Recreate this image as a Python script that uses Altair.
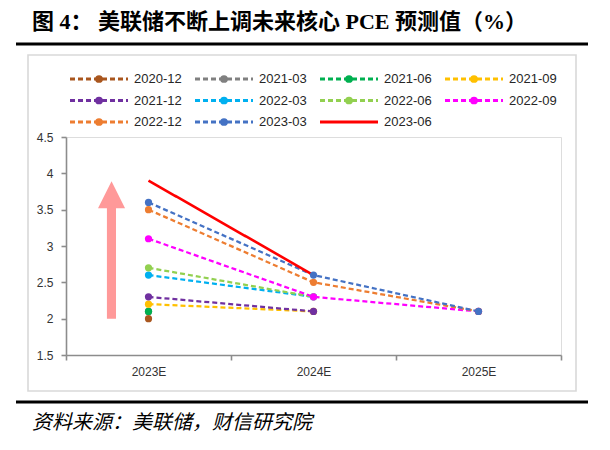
import altair as alt
import pandas as pd

# ---------------- data ----------------
years = ["2023E", "2024E", "2025E"]
series = ["2020-12", "2021-03", "2021-06", "2021-09", "2021-12", "2022-03",
          "2022-06", "2022-09", "2022-12", "2023-03", "2023-06"]
colors = ["#A9561E", "#808080", "#00B050", "#FFC000", "#7030A0", "#00B0F0",
          "#92D050", "#FF00FF", "#ED7D31", "#4472C4", "#FF0000"]
v_2023 = [2.0, 2.1, 2.1, 2.2, 2.3, 2.6, 2.7, 3.1, 3.5, 3.6, 3.9]
v_2024 = [None, None, None, 2.1, 2.1, 2.3, 2.3, 2.3, 2.5, 2.6, 2.6]
v_2025 = [None, None, None, None, None, None, None, 2.1, 2.1, 2.1, None]
y_ticks = [1.5, 2, 2.5, 3, 3.5, 4, 4.5]

# arrow annotation (data coordinates)
arrow_y = [2.0, 3.52, 3.5201, 3.89]
arrow_left = [0.248, 0.248, 0.194, 0.276]
arrow_right = [0.303, 0.303, 0.358, 0.276]

title_text = "图 4： 美联储不断上调未来核心 PCE 预测值（%）"
source_text = "资料来源：美联储，财信研究院"
solid_series = "2023-06"

# ---------------- tables ----------------
rows = []
for i, s in enumerate(series):
    for j, vals in enumerate([v_2023, v_2024, v_2025]):
        if vals[i] is not None:
            rows.append({"series": s, "order": i, "x": j + 0.5, "value": vals[i]})
df = pd.DataFrame(rows)

leg = pd.DataFrame({"series": series})
leg["col"] = [i % 4 for i in range(len(series))]
leg["row"] = [i // 4 for i in range(len(series))]
leg["lx0"] = leg["col"]
leg["lx1"] = leg["col"] + 0.464
leg["lxm"] = leg["col"] + 0.232
leg["lxt"] = leg["col"] + 0.512

arrow_df = pd.DataFrame({"y": arrow_y, "xl": arrow_left, "xr": arrow_right})

color = alt.Color("series:N", scale=alt.Scale(domain=series, range=colors), legend=None)
dash = alt.condition(f"datum.series == '{solid_series}'", alt.value([1, 0]), alt.value([5, 3]))
width_c = alt.condition(f"datum.series == '{solid_series}'", alt.value(2.6), alt.value(2.25))

label_arr = "[" + ",".join(f"'{y}'" for y in years) + "]"
x_scale = alt.Scale(domain=[0, 3], nice=False, zero=False)
y_scale = alt.Scale(domain=[1.5, 4.5], nice=False, zero=False)

x_axis = alt.Axis(
    values=[0, 0.5, 1, 1.5, 2, 2.5, 3],
    labelExpr=f"datum.value % 1 == 0.5 ? {label_arr}[floor(datum.value)] : ''",
    tickOpacity={"condition": {"test": "datum.value % 1 == 0", "value": 1}, "value": 0},
    grid=False, title=None, domainColor="#8C8C8C", domainWidth=1.6,
    tickColor="#8C8C8C", tickWidth=1.6, tickSize=5, labelPadding=6,
    labelFont="Liberation Sans", labelFontSize=12, labelColor="#333333",
    labelOverlap=False, labelFlush=False,
)
y_axis = alt.Axis(
    values=y_ticks, grid=False, title=None, domainColor="#8C8C8C", domainWidth=1.6,
    tickColor="#8C8C8C", tickWidth=1.6, tickSize=5, labelPadding=8,
    labelFont="Liberation Sans", labelFontSize=12, labelColor="#333333",
    labelFlush=False, labelOverlap=False, labelBound=False,
    labelExpr="format(datum.value, '~g')",
)

base = alt.Chart(df)
lines = base.mark_line().encode(
    x=alt.X("x:Q", scale=x_scale, axis=x_axis),
    y=alt.Y("value:Q", scale=y_scale, axis=y_axis),
    color=color, strokeDash=dash, strokeWidth=width_c, detail="series:N",
)
points = base.transform_filter(f"datum.series != '{solid_series}'").mark_circle(
    size=52, opacity=1).encode(
    x=alt.X("x:Q", scale=x_scale, axis=x_axis),
    y=alt.Y("value:Q", scale=y_scale, axis=y_axis),
    color=color, order=alt.Order("order:Q"),
)
arrow = alt.Chart(arrow_df).mark_area(orient="horizontal", color="#FF9999", opacity=1).encode(
    y=alt.Y("y:Q", scale=y_scale, axis=y_axis),
    x=alt.X("xl:Q", scale=x_scale, axis=x_axis), x2="xr:Q",
)
main = alt.layer(arrow, lines, points)

# legend with its own scales
lx = alt.Scale(domain=[0, 4], range=[4, 504], nice=False, zero=False)
ly = alt.Scale(domain=[0, 2], range=[-58, -15], nice=False, zero=False)
lbase = alt.Chart(leg)
leg_line = lbase.mark_rule(strokeWidth=3).encode(
    x=alt.X("lx0:Q", scale=lx, axis=None), x2="lx1:Q",
    y=alt.Y("row:Q", scale=ly, axis=None), color=color, strokeDash=dash,
)
leg_pt = lbase.transform_filter(f"datum.series != '{solid_series}'").mark_circle(
    size=60, opacity=1).encode(
    x=alt.X("lxm:Q", scale=lx, axis=None), y=alt.Y("row:Q", scale=ly, axis=None), color=color,
)
leg_txt = lbase.mark_text(align="left", baseline="middle", fontSize=13,
                          font="Liberation Sans", color="#262626").encode(
    x=alt.X("lxt:Q", scale=lx, axis=None), y=alt.Y("row:Q", scale=ly, axis=None),
    text="series:N",
)
legend = alt.layer(leg_line, leg_pt, leg_txt)

one = pd.DataFrame({"t": [title_text], "s": [source_text]})
frame = alt.Chart(one).mark_rect(fill="transparent", stroke="#D9D9D9", strokeWidth=1.6).encode(
    x=alt.value(-38), x2=alt.value(510), y=alt.value(-82), y2=alt.value(254))
top_rule = alt.Chart(one).mark_rule(color="black", strokeWidth=3).encode(
    x=alt.value(-50), x2=alt.value(522), y=alt.value(-93))
bot_rule = alt.Chart(one).mark_rule(color="black", strokeWidth=3).encode(
    x=alt.value(-50), x2=alt.value(522), y=alt.value(265))
title = alt.Chart(one).mark_text(
    align="left", baseline="middle", fontSize=22, fontWeight="bold",
    font="Liberation Serif, Noto Sans CJK SC", color="black").encode(
    x=alt.value(-34), y=alt.value(-115), text="t:N")
source = alt.Chart(one).mark_text(
    align="left", baseline="middle", fontSize=20, fontStyle="italic",
    font="Noto Sans CJK SC", color="black").encode(
    x=alt.value(-34), y=alt.value(286), text="s:N")

chart = alt.layer(frame, top_rule, bot_rule, title, source, main, legend).resolve_scale(
    x="independent", y="independent"
).properties(
    width=495, height=218,
    autosize=alt.AutoSizeParams(type="none"),
    padding={"left": 58, "top": 129, "right": 41, "bottom": 87},
).configure_view(stroke=None).configure(background="white")

chart.save("out.html", embed_options={"renderer": "svg", "actions": False})
